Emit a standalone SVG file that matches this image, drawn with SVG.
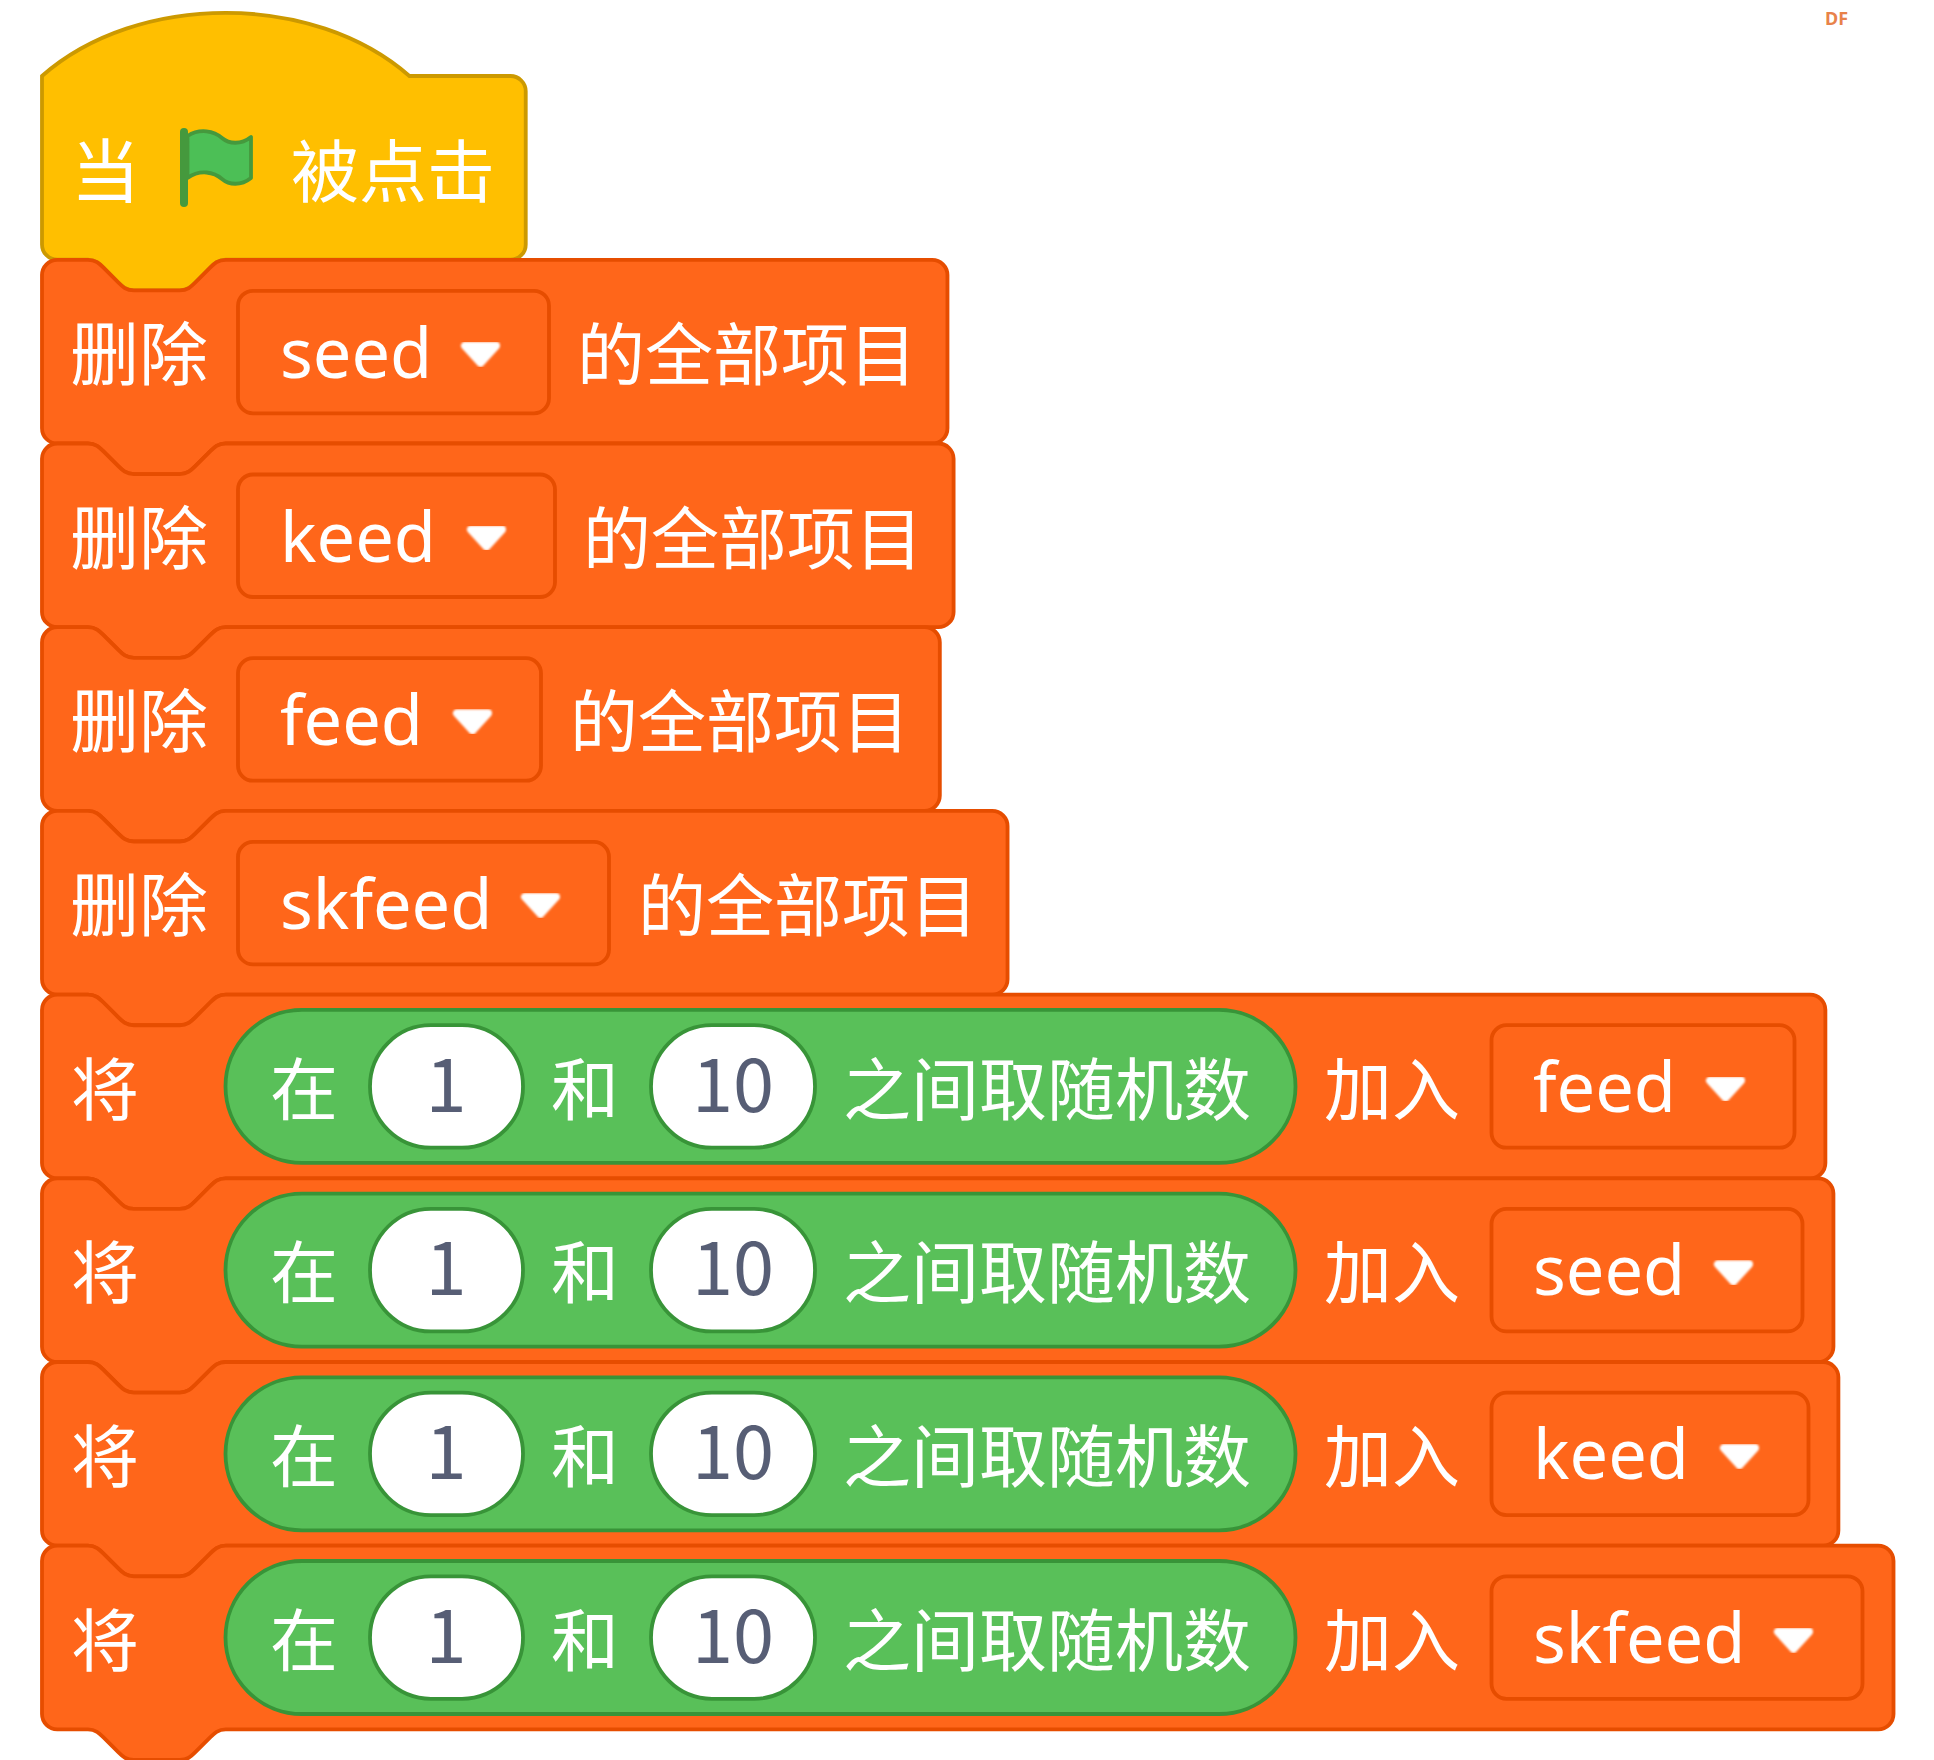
<svg xmlns="http://www.w3.org/2000/svg" width="1934" height="1760" viewBox="0 0 1934 1760">
<defs>
<style>
text{font-family:"Noto Sans CJK SC","Noto Sans",sans-serif;font-size:68px;fill:#fff}
text.lat{font-family:"Noto Sans","Noto Sans CJK SC",sans-serif;font-size:68.500px}
.blk{fill:#ff661a;stroke:#e64d00;stroke-width:1}
.hat{fill:#ffbf00;stroke:#cc9900;stroke-width:1}
.dd{fill:#ff661a;stroke:#e64d00;stroke-width:3.8}
.pill{fill:#59c059;stroke:#389438;stroke-width:3.8}
.inp{fill:#fff;stroke:#389438;stroke-width:3.8}
text.num{fill:#575e75;text-anchor:middle;font-size:74px}
</style>
<filter id="soft" x="-20%" y="-20%" width="140%" height="140%"><feGaussianBlur stdDeviation="0.9"/></filter>
<path id="arrow" d="M2,0H33L17.500,17Z" fill="#fff" stroke="#fff" stroke-width="8" stroke-linejoin="round" filter="url(#soft)"/>
<g id="rnd">
<rect class="pill" x="225.500" y="15.300" width="1070" height="153" rx="76.500"/>
<rect class="inp" x="370" y="30.600" width="153" height="122.500" rx="61"/>
<rect class="inp" x="651" y="30.600" width="164" height="122.500" rx="61"/>
<text x="270" y="120">在</text>
<text class="num" x="446" y="117">1</text>
<text x="551" y="120">和</text>
<text class="num" x="733" y="117">10</text>
<text x="843" y="120">之间取随机数</text>
<text x="1324" y="120">加入</text>
<text x="71" y="120">将</text>
</g>
<g id="del"><text x="70" y="120" style="font-size:69px">删除</text></g>
</defs>
<rect width="1934" height="1760" fill="#fff"/>
<g id="hat">
<path class="hat" transform="translate(42,76) scale(3.827)" d="M0,0c25,-22 71,-22 96,0H122.400a4,4 0 0 1 4,4v40a4,4 0 0 1 -4,4H48c-2,0 -3,1 -4,2l-4,4c-1,1 -2,2 -4,2h-12c-2,0 -3,-1 -4,-2l-4,-4c-1,-1 -2,-2 -4,-2H4a4,4 0 0 1 -4,-4z"/>
<text x="71" y="197" style="font-size:69px">当</text>
<path d="M187.500,136C200,128 214,131 222,138C229,144 241,145 251,137V178C241,186 229,185 222,179C214,172 200,169 187.500,178Z" fill="#4cbf56" stroke="#45993d" stroke-width="3.800" stroke-linejoin="round"/>
<path d="M184,132V203" stroke="#45993d" stroke-width="8" stroke-linecap="round" fill="none"/>
<text x="291" y="197">被点击</text>
</g>
<g id="del-seed" transform="translate(0,259.8)">
<path class="blk" transform="translate(42,0) scale(3.827)" d="M0,4A4,4 0 0 1 4,0H12c2,0 3,1 4,2l4,4c1,1 2,2 4,2h12c2,0 3,-1 4,-2l4,-4c1,-1 2,-2 4,-2H232.600a4,4 0 0 1 4,4v40a4,4 0 0 1 -4,4H48c-2,0 -3,1 -4,2l-4,4c-1,1 -2,2 -4,2h-12c-2,0 -3,-1 -4,-2l-4,-4c-1,-1 -2,-2 -4,-2H4a4,4 0 0 1 -4,-4z"/>
<use href="#del"/>
<rect class="dd" x="238" y="31" width="311" height="122.500" rx="15"/>
<text class="lat" x="280" y="118">seed</text>
<use href="#arrow" x="463" y="86"/>
<text x="577" y="120">的全部项目</text>
</g>
<g id="del-keed" transform="translate(0,443.5)">
<path class="blk" transform="translate(42,0) scale(3.827)" d="M0,4A4,4 0 0 1 4,0H12c2,0 3,1 4,2l4,4c1,1 2,2 4,2h12c2,0 3,-1 4,-2l4,-4c1,-1 2,-2 4,-2H234.200a4,4 0 0 1 4,4v40a4,4 0 0 1 -4,4H48c-2,0 -3,1 -4,2l-4,4c-1,1 -2,2 -4,2h-12c-2,0 -3,-1 -4,-2l-4,-4c-1,-1 -2,-2 -4,-2H4a4,4 0 0 1 -4,-4z"/>
<use href="#del"/>
<rect class="dd" x="238" y="31" width="317" height="122.500" rx="15"/>
<text class="lat" x="280" y="118">keed</text>
<use href="#arrow" x="469" y="86"/>
<text x="583" y="120">的全部项目</text>
</g>
<g id="del-feed" transform="translate(0,627.2)">
<path class="blk" transform="translate(42,0) scale(3.827)" d="M0,4A4,4 0 0 1 4,0H12c2,0 3,1 4,2l4,4c1,1 2,2 4,2h12c2,0 3,-1 4,-2l4,-4c1,-1 2,-2 4,-2H230.600a4,4 0 0 1 4,4v40a4,4 0 0 1 -4,4H48c-2,0 -3,1 -4,2l-4,4c-1,1 -2,2 -4,2h-12c-2,0 -3,-1 -4,-2l-4,-4c-1,-1 -2,-2 -4,-2H4a4,4 0 0 1 -4,-4z"/>
<use href="#del"/>
<rect class="dd" x="238" y="31" width="303" height="122.500" rx="15"/>
<text class="lat" x="280" y="118">feed</text>
<use href="#arrow" x="455" y="86"/>
<text x="570" y="120">的全部项目</text>
</g>
<g id="del-skfeed" transform="translate(0,810.9)">
<path class="blk" transform="translate(42,0) scale(3.827)" d="M0,4A4,4 0 0 1 4,0H12c2,0 3,1 4,2l4,4c1,1 2,2 4,2h12c2,0 3,-1 4,-2l4,-4c1,-1 2,-2 4,-2H248.300a4,4 0 0 1 4,4v40a4,4 0 0 1 -4,4H48c-2,0 -3,1 -4,2l-4,4c-1,1 -2,2 -4,2h-12c-2,0 -3,-1 -4,-2l-4,-4c-1,-1 -2,-2 -4,-2H4a4,4 0 0 1 -4,-4z"/>
<use href="#del"/>
<rect class="dd" x="238" y="31" width="371" height="122.500" rx="15"/>
<text class="lat" x="280" y="118">skfeed</text>
<use href="#arrow" x="523" y="86"/>
<text x="638" y="120">的全部项目</text>
</g>
<g id="add-feed" transform="translate(0,994.6)">
<path class="blk" transform="translate(42,0) scale(3.827)" d="M0,4A4,4 0 0 1 4,0H12c2,0 3,1 4,2l4,4c1,1 2,2 4,2h12c2,0 3,-1 4,-2l4,-4c1,-1 2,-2 4,-2H462a4,4 0 0 1 4,4v40a4,4 0 0 1 -4,4H48c-2,0 -3,1 -4,2l-4,4c-1,1 -2,2 -4,2h-12c-2,0 -3,-1 -4,-2l-4,-4c-1,-1 -2,-2 -4,-2H4a4,4 0 0 1 -4,-4z"/>
<use href="#rnd"/>
<rect class="dd" x="1491.500" y="30.600" width="303" height="122.500" rx="15"/>
<text class="lat" x="1533" y="117">feed</text>
<use href="#arrow" x="1708" y="86"/>
</g>
<g id="add-seed" transform="translate(0,1178.3)">
<path class="blk" transform="translate(42,0) scale(3.827)" d="M0,4A4,4 0 0 1 4,0H12c2,0 3,1 4,2l4,4c1,1 2,2 4,2h12c2,0 3,-1 4,-2l4,-4c1,-1 2,-2 4,-2H464.100a4,4 0 0 1 4,4v40a4,4 0 0 1 -4,4H48c-2,0 -3,1 -4,2l-4,4c-1,1 -2,2 -4,2h-12c-2,0 -3,-1 -4,-2l-4,-4c-1,-1 -2,-2 -4,-2H4a4,4 0 0 1 -4,-4z"/>
<use href="#rnd"/>
<rect class="dd" x="1491.500" y="30.600" width="311" height="122.500" rx="15"/>
<text class="lat" x="1533" y="117">seed</text>
<use href="#arrow" x="1716" y="86"/>
</g>
<g id="add-keed" transform="translate(0,1362)">
<path class="blk" transform="translate(42,0) scale(3.827)" d="M0,4A4,4 0 0 1 4,0H12c2,0 3,1 4,2l4,4c1,1 2,2 4,2h12c2,0 3,-1 4,-2l4,-4c1,-1 2,-2 4,-2H465.400a4,4 0 0 1 4,4v40a4,4 0 0 1 -4,4H48c-2,0 -3,1 -4,2l-4,4c-1,1 -2,2 -4,2h-12c-2,0 -3,-1 -4,-2l-4,-4c-1,-1 -2,-2 -4,-2H4a4,4 0 0 1 -4,-4z"/>
<use href="#rnd"/>
<rect class="dd" x="1491.500" y="30.600" width="317" height="122.500" rx="15"/>
<text class="lat" x="1533" y="117">keed</text>
<use href="#arrow" x="1722" y="86"/>
</g>
<g id="add-skfeed" transform="translate(0,1545.7)">
<path class="blk" transform="translate(42,0) scale(3.827)" d="M0,4A4,4 0 0 1 4,0H12c2,0 3,1 4,2l4,4c1,1 2,2 4,2h12c2,0 3,-1 4,-2l4,-4c1,-1 2,-2 4,-2H479.800a4,4 0 0 1 4,4v40a4,4 0 0 1 -4,4H48c-2,0 -3,1 -4,2l-4,4c-1,1 -2,2 -4,2h-12c-2,0 -3,-1 -4,-2l-4,-4c-1,-1 -2,-2 -4,-2H4a4,4 0 0 1 -4,-4z"/>
<use href="#rnd"/>
<rect class="dd" x="1491.500" y="30.600" width="371" height="122.500" rx="15"/>
<text class="lat" x="1533" y="117">skfeed</text>
<use href="#arrow" x="1776" y="86"/>
</g>
<text id="mark" x="1825" y="25" style="font-family:'Noto Sans','Liberation Sans',sans-serif;font-size:18px;font-weight:700;fill:#e8824a">DF</text>
</svg>
